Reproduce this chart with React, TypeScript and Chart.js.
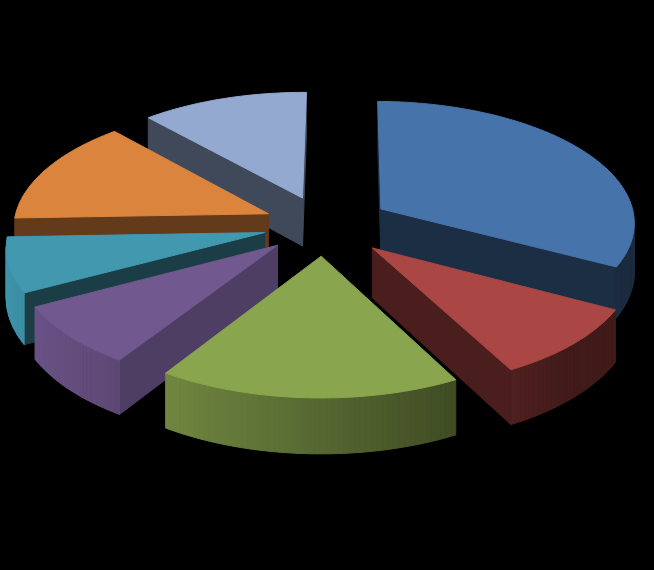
import React, { useEffect, useRef } from "react";
import { Chart, registerables } from "chart.js";

Chart.register(...registerables);

const categories = ["A", "B", "C", "D", "E", "F", "G"];
const values = [117.5, 34, 60.9, 29.1, 26, 50, 42.5];
const explode = [67, 67, 64, 62, 61, 61, 62];
const topColors = ["#4674AA", "#AA4643", "#89A54E", "#71588F", "#4198AF", "#DB843D", "#93A9CF"];
const wallShade = [0.4, 0.43, 0.5, 0.7, 0.4, 0.45, 0.43];

const WORLD_R = 255;
const THICK = 49;
const D = 2578;
const CAM = 1225;
const CX = 324;
const CY = 225;

type P = [number, number];

function project(X: number, Y: number, Z: number): P {
  const s = D / (D - Y);
  return [CX + X * s, CY - CAM + (CAM + Z) * s];
}

function shade(hex: string, f: number): string {
  const n = parseInt(hex.slice(1), 16);
  const c = [(n >> 16) & 255, (n >> 8) & 255, n & 255].map((v) => Math.round(v * f));
  return `rgb(${c[0]},${c[1]},${c[2]})`;
}

function fillPoly(ctx: CanvasRenderingContext2D, pts: P[], color: string) {
  ctx.beginPath();
  pts.forEach((p, i) => (i ? ctx.lineTo(p[0], p[1]) : ctx.moveTo(p[0], p[1])));
  ctx.closePath();
  ctx.fillStyle = color;
  ctx.strokeStyle = color;
  ctx.lineWidth = 1;
  ctx.lineJoin = "round";
  ctx.fill();
  ctx.stroke();
}

function area(pts: P[]): number {
  let a = 0;
  for (let i = 0; i < pts.length; i++) {
    const p = pts[i];
    const q = pts[(i + 1) % pts.length];
    a += p[0] * q[1] - q[0] * p[1];
  }
  return a / 2;
}

const pie3d = {
  id: "pie3d",
  beforeDatasetsDraw(chart: any) {
    const ctx: CanvasRenderingContext2D = chart.ctx;
    const arcs: any[] = chart.getDatasetMeta(0).data;
    const order = arcs
      .map((arc, i) => ({ arc, i, mid: (arc.startAngle + arc.endAngle) / 2 }))
      .sort((a, b) => Math.sin(a.mid) - Math.sin(b.mid));
    for (const { arc, i, mid } of order) {
      const d = arc.options.offset as number;
      const ax = Math.cos(mid) * d;
      const ay = Math.sin(mid) * d;
      const n = Math.max(4, Math.ceil((arc.endAngle - arc.startAngle) / 0.02));
      const rim: [number, number, number][] = [];
      for (let k = 0; k <= n; k++) {
        const t = arc.startAngle + ((arc.endAngle - arc.startAngle) * k) / n;
        rim.push([ax + Math.cos(t) * WORLD_R, ay + Math.sin(t) * WORLD_R, t]);
      }
      const top = (x: number, y: number) => project(x, y, 0);
      const bot = (x: number, y: number) => project(x, y, THICK);
      const wallColor = shade(topColors[i], wallShade[i]);
      const a0 = rim[0];
      const a1 = rim[n];
      const wallA: P[] = [top(ax, ay), bot(ax, ay), bot(a0[0], a0[1]), top(a0[0], a0[1])];
      const wallB: P[] = [top(a1[0], a1[1]), bot(a1[0], a1[1]), bot(ax, ay), top(ax, ay)];
      if (area(wallA) > 0) fillPoly(ctx, wallA, wallColor);
      if (area(wallB) > 0) fillPoly(ctx, wallB, wallColor);
      for (let k = 0; k < n; k++) {
        const p = rim[k];
        const q = rim[k + 1];
        const quad: P[] = [top(p[0], p[1]), bot(p[0], p[1]), bot(q[0], q[1]), top(q[0], q[1])];
        if (area(quad) > 0) {
          const f = Math.min(0.98, Math.max(0.38, 0.63 - 0.35 * Math.cos(p[2])));
          fillPoly(ctx, quad, shade(topColors[i], f));
        }
      }
      const face: P[] = [top(ax, ay), ...rim.map((r) => top(r[0], r[1]))];
      fillPoly(ctx, face, topColors[i]);
    }
    return false;
  },
};

export default function App() {
  const ref = useRef<HTMLCanvasElement>(null);
  useEffect(() => {
    document.body.style.margin = "0";
    document.body.style.background = "#000";
    const chart = new Chart(ref.current as HTMLCanvasElement, {
      type: "pie",
      data: {
        labels: categories,
        datasets: [{ data: values, backgroundColor: topColors, offset: explode, borderWidth: 0 }],
      },
      options: {
        responsive: false,
        animation: false,
        rotation: 0.5,
        plugins: { legend: { display: false }, tooltip: { enabled: false } },
      },
      plugins: [pie3d as any],
    });
    return () => chart.destroy();
  }, []);
  return <canvas ref={ref} width={654} height={570} style={{ display: "block", background: "#000" }} />;
}
